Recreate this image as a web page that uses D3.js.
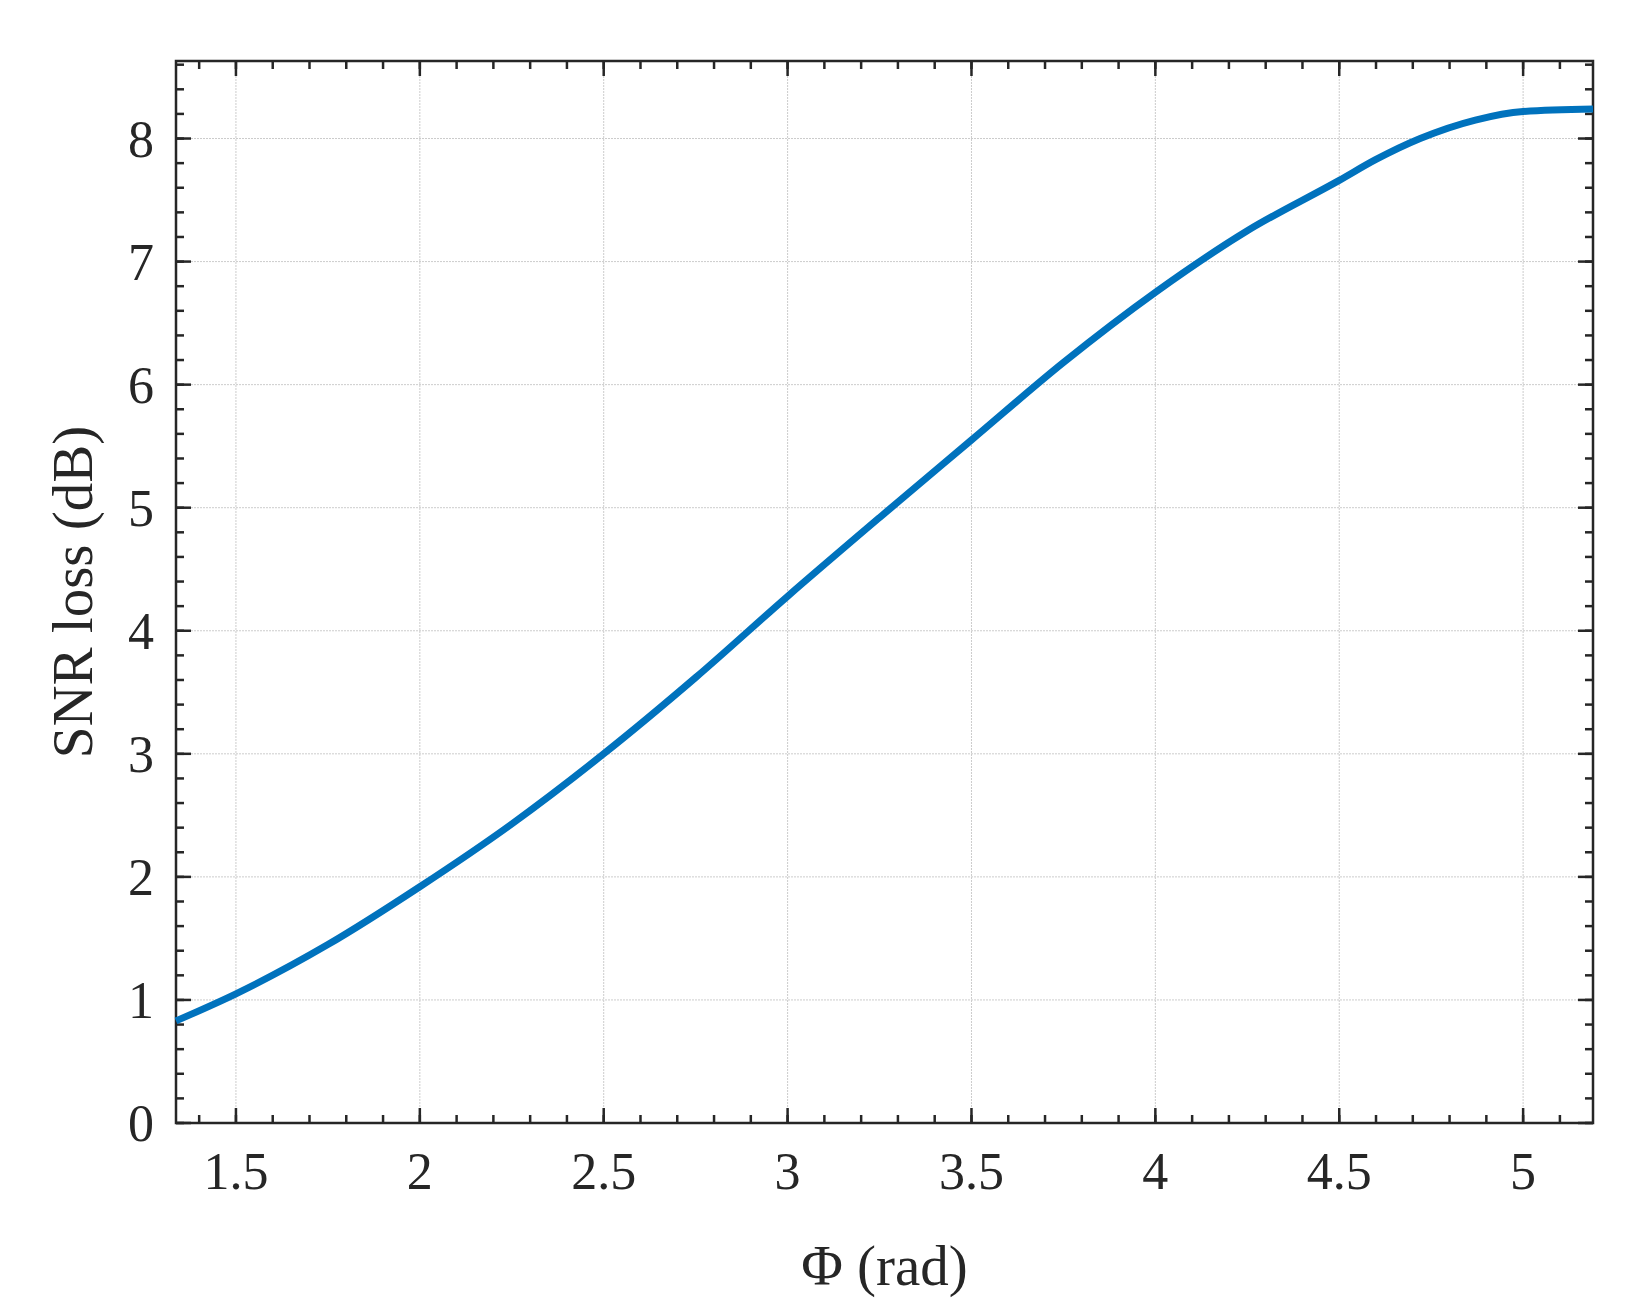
<!DOCTYPE html><html><head><script src="https://cdn.jsdelivr.net/npm/d3@7"></script>
<style>body{margin:0;background:#fff}</style></head><body><script>
const phi=[1.337,1.5,1.75,2,2.25,2.5,2.75,3,3.25,3.5,3.75,4,4.25,4.5,4.6,4.72,4.87,5.0,5.19];
const snr=[0.83,1.05,1.45,1.92,2.43,3.0,3.62,4.28,4.92,5.55,6.18,6.75,7.25,7.66,7.83,8.0,8.15,8.22,8.24];
const xTicks=[1.5,2,2.5,3,3.5,4,4.5,5];
const yTicks=[0,1,2,3,4,5,6,7,8];
const W=1648,H=1316,L=176,R=1593,T=61,B=1123;
const svg=d3.select("body").append("svg").attr("width",W).attr("height",H).style("font-family","Liberation Serif");
const x=d3.scaleLinear().domain([1.337,5.19]).range([L,R]);
const y=d3.scaleLinear().domain([0,8.63]).range([B,T]);
const g=svg.append("g");
xTicks.forEach(t=>g.append("line").attr("x1",x(t)).attr("x2",x(t)).attr("y1",T).attr("y2",B).attr("stroke","#ccc").attr("stroke-dasharray","2,1"));
yTicks.forEach(t=>g.append("line").attr("y1",y(t)).attr("y2",y(t)).attr("x1",L).attr("x2",R).attr("stroke","#ccc").attr("stroke-dasharray","2,1"));
const xm=d3.range(14,52).map(d=>d/10).filter(d=>d>1.337&&d<5.19);
const ym=d3.range(0,44).map(d=>d/5).filter(d=>d<8.63);
const k="#262626";
function tk(x1,y1,x2,y2,w){g.append("line").attr("x1",x1).attr("y1",y1).attr("x2",x2).attr("y2",y2).attr("stroke",k).attr("stroke-width",w||2.5);}
xm.forEach(t=>{tk(x(t),B,x(t),B-8);tk(x(t),T,x(t),T+8);});
xTicks.forEach(t=>{tk(x(t),B,x(t),B-15);tk(x(t),T,x(t),T+15);});
ym.forEach(t=>{tk(L,y(t),L+8,y(t));tk(R,y(t),R-8,y(t));});
yTicks.forEach(t=>{tk(L,y(t),L+15,y(t));tk(R,y(t),R-15,y(t));});
g.append("rect").attr("x",L).attr("y",T).attr("width",R-L).attr("height",B-T).attr("fill","none").attr("stroke",k).attr("stroke-width",2.5);
svg.append("path").datum(phi.map((p,i)=>[p,snr[i]])).attr("d",d3.line().x(d=>x(d[0])).y(d=>y(d[1])).curve(d3.curveMonotoneX))
 .attr("fill","none").attr("stroke","#0072BD").attr("stroke-width",7);
xTicks.forEach(t=>svg.append("text").attr("x",x(t)).attr("y",B+66).attr("text-anchor","middle").attr("font-size",52).attr("fill",k).text(t));
yTicks.forEach(t=>svg.append("text").attr("x",L-22).attr("y",y(t)+18).attr("text-anchor","end").attr("font-size",52).attr("fill",k).text(t));
svg.append("text").attr("x",(L+R)/2).attr("y",1285).attr("text-anchor","middle").attr("font-size",57).attr("fill",k).text("Φ (rad)");
svg.append("text").attr("transform",`translate(92,${(T+B)/2}) rotate(-90)`).attr("text-anchor","middle").attr("font-size",57).attr("fill",k).text("SNR loss (dB)");
</script></body></html>
